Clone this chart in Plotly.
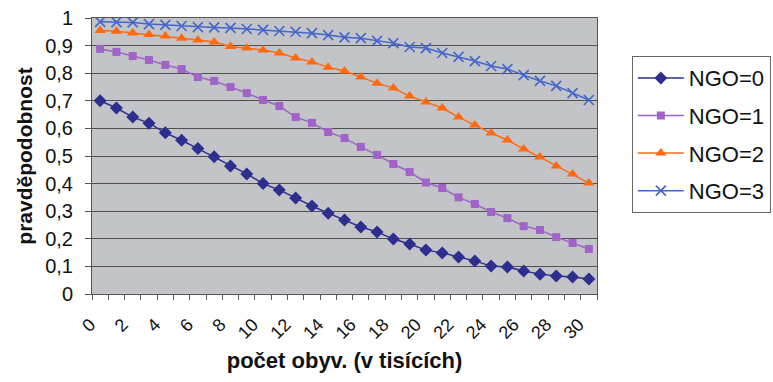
import plotly.graph_objects as go

x_vals = list(range(0, 31))
tick_labels = [str(v) for v in range(0, 31, 2)]

ngo0 = [0.700, 0.674, 0.641, 0.619, 0.584, 0.557, 0.527, 0.497, 0.464, 0.435,
        0.400, 0.377, 0.348, 0.319, 0.293, 0.268, 0.243, 0.225, 0.199, 0.181,
        0.159, 0.149, 0.134, 0.120, 0.101, 0.098, 0.083, 0.072, 0.065, 0.062, 0.054]
ngo1 = [0.888, 0.877, 0.862, 0.848, 0.830, 0.815, 0.786, 0.772, 0.750, 0.728,
        0.703, 0.681, 0.641, 0.620, 0.587, 0.565, 0.533, 0.504, 0.471, 0.442,
        0.404, 0.384, 0.350, 0.326, 0.297, 0.275, 0.246, 0.232, 0.206, 0.185, 0.163]
ngo2 = [0.955, 0.952, 0.946, 0.940, 0.935, 0.927, 0.920, 0.913, 0.897, 0.891,
        0.884, 0.873, 0.855, 0.841, 0.822, 0.808, 0.786, 0.764, 0.746, 0.717,
        0.696, 0.674, 0.641, 0.612, 0.583, 0.558, 0.525, 0.496, 0.464, 0.435, 0.402]
ngo3 = [0.986, 0.985, 0.984, 0.978, 0.975, 0.971, 0.967, 0.966, 0.964, 0.960,
        0.957, 0.953, 0.950, 0.945, 0.938, 0.930, 0.927, 0.917, 0.909, 0.895,
        0.891, 0.873, 0.859, 0.844, 0.826, 0.815, 0.793, 0.772, 0.754, 0.728, 0.703]

series = [
    ("NGO=0", ngo0, "#2e2e8e", "diamond", 10),
    ("NGO=1", ngo1, "#a064c8", "square", 8),
    ("NGO=2", ngo2, "#ff6a10", "triangle-up", 10),
    ("NGO=3", ngo3, "#4466cc", "x-thin", 10),
]

FONT = "Liberation Sans, Arial, sans-serif"

fig = go.Figure()
for i, (name, vals, col, sym, sz) in enumerate(series):
    marker = dict(symbol=sym, size=sz, color=col)
    if sym == "x-thin":
        marker["line"] = dict(color=col, width=1.6)
    fig.add_trace(go.Scatter(
        x=x_vals, y=vals, name=name, mode="lines+markers",
        line=dict(color=col, width=1.5), marker=marker,
        legendgroup=f"g{i}",
    ))

fig.update_layout(
    width=773, height=382,
    margin=dict(l=92, r=176, t=18, b=88, autoexpand=False),
    paper_bgcolor="white",
    plot_bgcolor="#c2c4c8",
    separators=", ",
    font=dict(family=FONT, color="#111111"),
    showlegend=True,
    legend=dict(
        x=1.069, xanchor="left", y=0.862, yanchor="top",
        bgcolor="white", bordercolor="#666666", borderwidth=1,
        font=dict(size=22, family=FONT, color="#111111"),
        tracegroupgap=6, itemwidth=46,
    ),
)

fig.update_xaxes(
    range=[-0.5, 30.5],
    tickmode="array", tickvals=list(range(0, 31, 2)), ticktext=tick_labels,
    tickangle=-45, ticks="",
    ticklabelstandoff=12, ticklabelshift=-10,
    tickfont=dict(size=18, family=FONT, color="#111111"),
    minor=dict(tick0=-0.5, dtick=1, ticks="outside", ticklen=5,
               tickcolor="#555555", tickwidth=1, showgrid=False),
    showgrid=False, zeroline=False,
    showline=True, linecolor="#555555", linewidth=1, mirror=True,
    title=dict(text="<b>počet obyv. (v tisících)</b>",
               font=dict(size=22, family=FONT, color="#111111"), standoff=10),
)
fig.update_yaxes(
    range=[0, 1], dtick=0.1, tick0=0,
    tickfont=dict(size=20, family=FONT, color="#111111"),
    ticks="outside", ticklen=6, tickcolor="#555555",
    ticklabelstandoff=8,
    showgrid=True, gridcolor="#505050", gridwidth=1,
    zeroline=False,
    showline=True, linecolor="#555555", linewidth=1, mirror=True,
    title=dict(text="<b>pravděpodobnost</b>",
               font=dict(size=21, family=FONT, color="#111111"), standoff=6),
)

fig.write_html("out.html")
